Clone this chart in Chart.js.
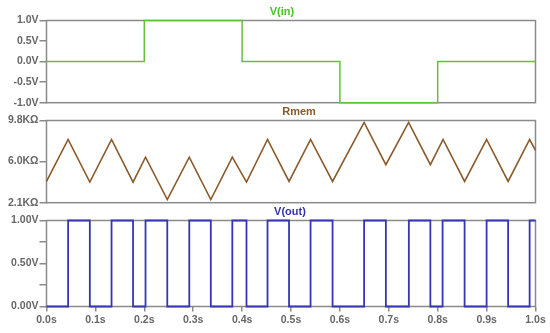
<!DOCTYPE html>
<html><head><meta charset="utf-8">
<script src="https://cdn.jsdelivr.net/npm/chart.js@4"></script>
<style>
html,body{margin:0;padding:0;background:#fff;}
#wrap{position:relative;width:550px;height:333px;overflow:hidden;background:#fff;}
.pane{position:absolute;left:0;width:550px;}
</style></head><body>
<div id="wrap">
<div class="pane" style="top:0px;height:110px"><canvas id="k1"></canvas></div>
<div class="pane" style="top:100px;height:110px"><canvas id="k2"></canvas></div>
<div class="pane" style="top:200px;height:133px"><canvas id="k3"></canvas></div>
</div>
<script>
// ---- data ----
const timeTicks = [0, 0.1, 0.2, 0.3, 0.4, 0.5, 0.6, 0.7, 0.8, 0.9, 1.0];
const timeTickLabels = ['0.0s','0.1s','0.2s','0.3s','0.4s','0.5s','0.6s','0.7s','0.8s','0.9s','1.0s'];

const vinTimes  = [0, 0.2, 0.4, 0.6, 0.8, 1.0];
const vinValues = [0, 1, 0, -1, 0, 0];
const vinTicks = [-1, -0.5, 0, 0.5, 1];
const vinTickLabels = ['-1.0V','-0.5V','0.0V','0.5V','1.0V'];

const rmemTimes  = [0, 0.0442, 0.0886, 0.133, 0.177, 0.2025, 0.247, 0.292, 0.336, 0.380, 0.409, 0.452,
                    0.496, 0.540, 0.585, 0.6495, 0.694, 0.7405, 0.785, 0.811, 0.855, 0.900, 0.944, 0.988, 1.0];
const rmemValues = [4.09, 8.02, 4.03, 8.02, 4.03, 6.36, 2.40, 6.36, 2.40, 6.36, 4.03, 8.02,
                    4.09, 8.02, 4.09, 9.62, 5.66, 9.62, 5.66, 8.02, 4.09, 8.02, 4.09, 8.02, 7.0];
const rmemTicks = [2.1, 5.95, 9.8];
const rmemTickLabels = ['2.1KΩ','6.0KΩ','9.8KΩ'];

const voutTimes  = [0, 0.0442, 0.0886, 0.133, 0.177, 0.2025, 0.247, 0.292, 0.336, 0.380, 0.409, 0.452,
                    0.496, 0.540, 0.585, 0.6495, 0.694, 0.741, 0.785, 0.810, 0.855, 0.900, 0.944, 0.988, 1.0];
const voutValues = [0, 1, 0, 1, 0, 1, 0, 1, 0, 1, 0, 1,
                    0, 1, 0, 1, 0, 1, 0, 1, 0, 1, 0, 1, 1];
const voutTicks = [0, 0.25, 0.5, 0.75, 1];
const voutTickLabels = ['0.00V','','0.50V','','1.00V'];

// ---- styling ----
const AXIS = '#8a8a8a';
const LABEL = '#666666';
const FONT = 'Arial, "Liberation Sans", sans-serif';
const TICKFONT = { family: FONT, size: 10.5, weight: 'bold' };

const boxPlugin = {
  id: 'box',
  beforeDatasetsDraw(chart) {
    const a = chart.chartArea, ctx = chart.ctx;
    ctx.save();
    ctx.strokeStyle = AXIS;
    ctx.lineWidth = 1.5;
    ctx.strokeRect(a.left, a.top, a.right - a.left, a.bottom - a.top);
    ctx.restore();
  }
};
function titlePlugin(text, x, y, color) {
  return {
    id: 'ttl',
    afterDraw(chart) {
      const ctx = chart.ctx;
      ctx.save();
      ctx.font = 'bold 11px ' + FONT;
      ctx.fillStyle = color;
      ctx.textAlign = 'center';
      ctx.textBaseline = 'middle';
      ctx.fillText(text, x, y);
      ctx.restore();
    }
  };
}
function pts(xs, ys) { return xs.map((x, i) => ({x: x, y: ys[i]})); }

function yScale(min, max, ticks, labels) {
  return {
    type: 'linear', min: min, max: max,
    afterBuildTicks: s => { s.ticks = ticks.map(v => ({value: v})); },
    afterFit: s => { s.width = 46.5; },
    grid: { drawOnChartArea: false, drawTicks: true, tickLength: 7, color: AXIS, lineWidth: 1.5 },
    border: { display: false },
    ticks: { autoSkip: false, padding: 1, color: LABEL, font: TICKFONT,
             callback: (v, i) => labels[i] }
  };
}
function xScale(show) {
  const s = {
    type: 'linear', min: 0, max: 1, display: show,
    afterBuildTicks: s => { s.ticks = timeTicks.map(v => ({value: v})); },
    grid: { drawOnChartArea: false, drawTicks: true, tickLength: 5, color: AXIS, lineWidth: 1.5 },
    border: { display: false },
    ticks: { autoSkip: false, maxRotation: 0, padding: 2, color: LABEL, font: TICKFONT,
             callback: (v, i) => timeTickLabels[i] }
  };
  if (show) s.afterFit = sc => { sc.height = 26.5; };
  return s;
}
function make(id, data, color, width, stepped, yOpts, showX, pad, title) {
  return new Chart(document.getElementById(id), {
    type: 'line',
    data: { datasets: [{ data: data, borderColor: color, borderWidth: width, pointRadius: 0,
                         stepped: stepped, tension: 0, clip: 4, fill: false }] },
    options: {
      responsive: true, maintainAspectRatio: false, animation: false, devicePixelRatio: 1,
      layout: { padding: pad },
      plugins: { legend: { display: false }, tooltip: { enabled: false }, title: { display: false } },
      scales: { x: xScale(showX), y: yOpts }
    },
    plugins: [boxPlugin, title]
  });
}

make('k1', pts(vinTimes, vinValues), '#66bf38', 1.5, true,
     yScale(-1, 1, vinTicks, vinTickLabels), false,
     { top: 20.5, bottom: 5.5, left: 0, right: 14.5 },
     titlePlugin('V(in)', 282, 12, '#44c428'));
make('k2', pts(rmemTimes, rmemValues), '#8b5a2b', 1.6, false,
     yScale(2.1, 9.8, rmemTicks, rmemTickLabels), false,
     { top: 20.5, bottom: 5.5, left: 0, right: 14.5 },
     titlePlugin('Rmem', 299, 12, '#8b5a2b'));
make('k3', pts(voutTimes, voutValues), '#3535b5', 1.8, true,
     yScale(0, 1, voutTicks, voutTickLabels), true,
     { top: 20.5, bottom: 0, left: 0, right: 14.5 },
     titlePlugin('V(out)', 290, 11.7, '#3333aa'));
</script>
</body></html>
